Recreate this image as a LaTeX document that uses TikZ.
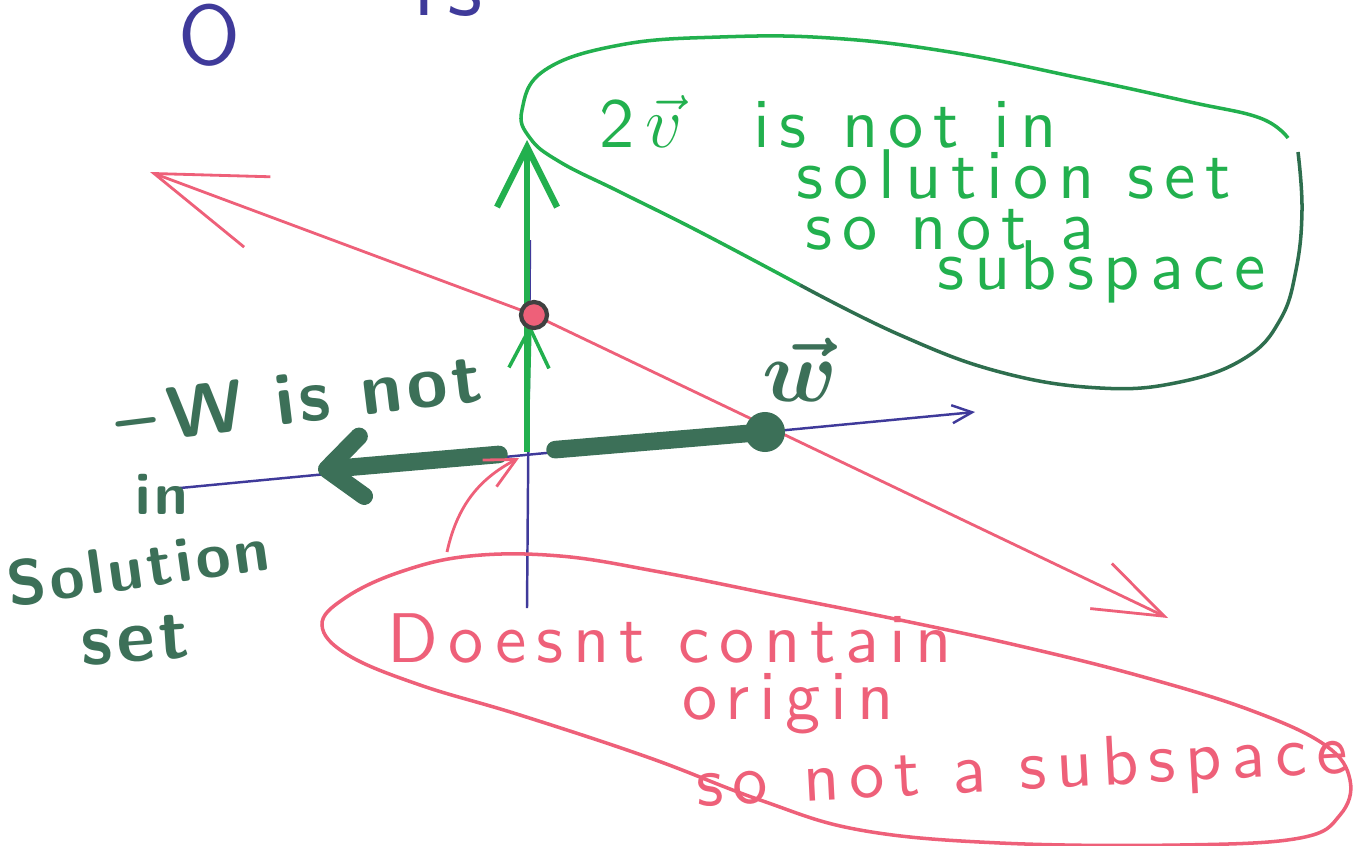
\documentclass[tikz,border=0pt]{standalone}
\usepackage{fontspec}
\usepackage{amsmath}
\usetikzlibrary{arrows.meta,positioning,calc}
\newfontfamily\handfont{lmsans10-regular.otf}[LetterSpace=14]
\newfontfamily\markerfont{lmsans10-bold.otf}[LetterSpace=6]
\definecolor{penblue}{HTML}{3F3A9A}
\definecolor{pengreen}{HTML}{22B04E}
\definecolor{penshade}{HTML}{2E6E4E}
\definecolor{penpink}{HTML}{EE6079}
\definecolor{pendark}{HTML}{3C7058}

\begin{document}
\begin{tikzpicture}[x=0.01cm, y=-0.01cm,
  greentxt/.style={text=pengreen, font=\handfont\fontsize{20}{27}\selectfont, align=center, inner sep=0pt},
  pinktxt/.style={text=penpink, font=\handfont\fontsize{20}{27}\selectfont, align=center, inner sep=0pt},
  marker/.style={text=pendark, font=\markerfont\fontsize{21}{26}\selectfont, inner sep=0pt},
  axis/.style={penblue, line width=0.7pt},
  pinkline/.style={penpink, line width=0.8pt},
  barb/.style={-{Straight Barb[length=#1, width=#1]}},
  thickvec/.style={pendark, line width=5pt, line cap=round}
]
  \useasboundingbox (0,0) rectangle (1360,845);

  \coordinate (o) at (527,452);
  \coordinate (xL) at (180,488);
  \coordinate (xR) at (975,412);
  \coordinate (yT) at (530,240);
  \coordinate (yB) at (527,608);
  \coordinate (c0) at (534,315);
  \coordinate (pL) at (150,172);
  \coordinate (pR) at (1168,618);
  \coordinate (gT) at (527,140);
  \coordinate (gV) at (530,324);
  \coordinate (wneg) at (318,470);
  \coordinate (wpos) at (765,432);
  \coordinate (tail) at (447,552);
  \coordinate (ohead) at (519,458);

  \begin{scope}
    \clip (0,0) rectangle (1360,845);
    \node[text=penblue, font=\handfont\fontsize{24}{24}\selectfont, inner sep=0pt] (zero) at (210,35) {O};
    \node[text=penblue, font=\handfont\fontsize{26}{26}\selectfont, inner sep=0pt] (isfrag) at (448,-14) {is};
  \end{scope}

  \draw[axis, -{Straight Barb[length=0.2cm, width=0.18cm]}] (xL) -- (xR);
  \draw[axis] (yT) -- (yB);

  \draw[pinkline, {Straight Barb[length=1.1cm, width=0.75cm]}-{Straight Barb[length=0.7cm, width=0.5cm]}] (pL) -- (c0) -- (pR);

  \draw[pengreen, line width=1.8pt, barb=0.6cm] (o) -- (gT);
  \draw[pengreen, line width=1pt, barb=0.4cm] (o) -- (gV);

  \node[circle, draw=black!75, fill=penpink, line width=1.2pt, inner sep=0, minimum size=0.26cm] (zeropt) at (c0) {};

  \draw[thickvec, -{Straight Barb[length=0.35cm, width=0.6cm, round]}, shorten <=8pt] (o) -- (wneg);
  \draw[thickvec, shorten <=8pt] (o) -- (wpos);
  \node[circle, fill=pendark, inner sep=0, minimum size=0.4cm] (wdot) at (wpos) {};
  \node[text=pendark, font=\fontsize{26}{26}\selectfont, inner sep=0pt] (wlab) at (800,370) {$\boldsymbol{\vec{w}}$};

  \draw[penpink, line width=0.8pt, -{Straight Barb[length=0.3cm, width=0.3cm]}] (tail) to[bend left=25] (ohead);

  \draw[pengreen, line width=1pt] plot[smooth, tension=0.7] coordinates {(800,285) (700,232) (620,192) (560,162) (530,138) (522,110) (545,70) (620,45) (720,37) (830,38) (950,52) (1080,78) (1190,102) (1260,118) (1288,138)};
  \draw[penshade, line width=1pt] plot[smooth, tension=0.7] coordinates {(1298,152) (1302,210) (1296,270) (1280,320) (1245,358) (1180,382) (1100,388) (1000,372) (900,335) (800,285)};

  \draw[penpink, line width=1pt] plot[smooth cycle, tension=0.65] coordinates {(322,625) (345,598) (400,572) (470,556) (560,556) (660,572) (780,596) (900,620) (1020,646) (1140,676) (1250,710) (1325,745) (1350,780) (1340,815) (1300,838) (1180,845) (1000,843) (860,830) (760,800) (650,758) (520,715) (420,685) (348,655)};

  \node[greentxt] (vline1) at (828,122) {2\,$\vec{v}$\quad is\enspace not\enspace in};
  \node[greentxt] (vline2) at (1014,174) {solution set};
  \node[greentxt] (vline3) at (950,230) {so not a};
  \node[greentxt] (vline4) at (1102,272) {subspace};

  \node[pinktxt] (oline1) at (670,638) {Doesnt contain};
  \node[pinktxt] (oline2) at (788,704) {origin};
  \node[pinktxt, rotate=3] (oline3) at (1022,772) {so\enspace not a subspace};

  \node[marker, rotate=7] (wtxt1) at (298,398) {\textendash\,W is not};
  \node[marker, font=\markerfont\fontsize{17}{20}\selectfont] (wtxt2) at (162,494) {in};
  \node[marker, rotate=8, font=\markerfont\fontsize{18}{22}\selectfont] (wtxt3) at (138,566) {Solution};
  \node[marker, rotate=4] (wtxt4) at (135,640) {set};
\end{tikzpicture}
\end{document}
